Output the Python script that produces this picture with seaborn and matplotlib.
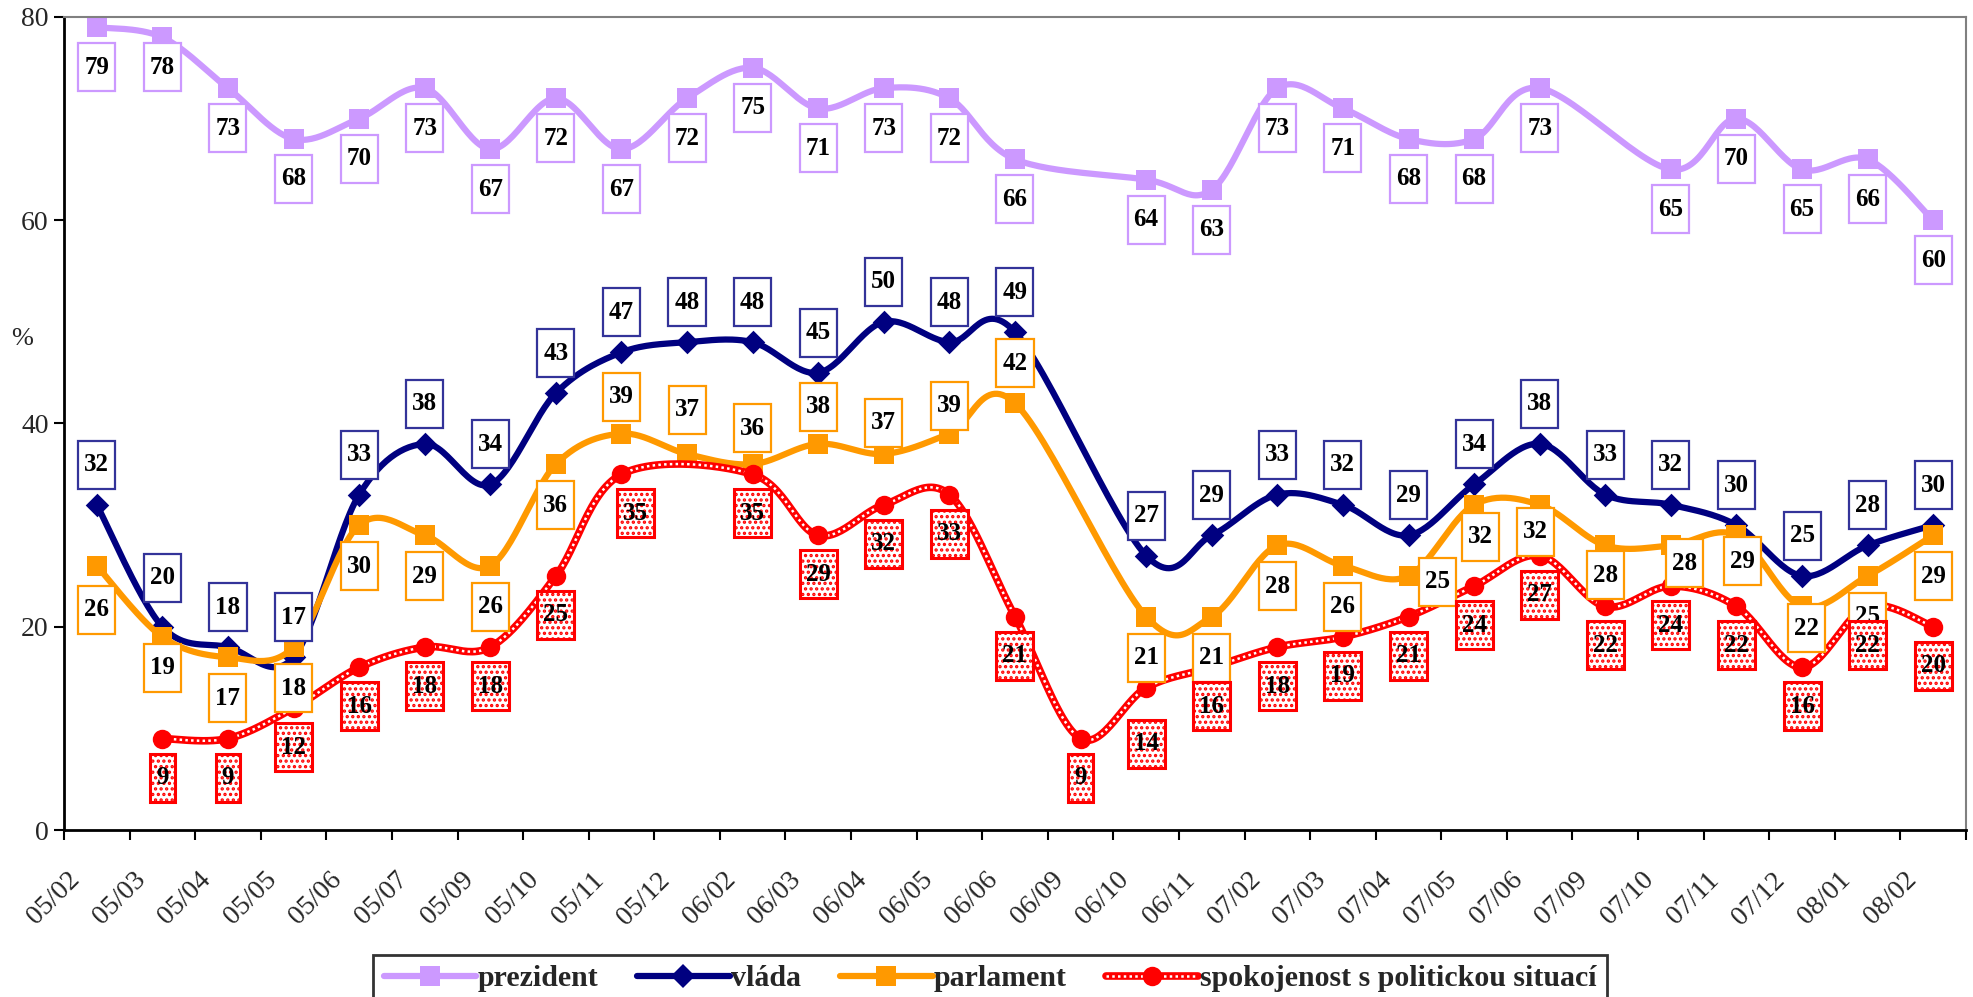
import numpy as np
import pandas as pd
import seaborn as sns
import matplotlib.pyplot as plt
from matplotlib.lines import Line2D
from matplotlib.path import Path
from matplotlib.transforms import ScaledTranslation

# -----------------------------
# Data
# -----------------------------
months = [
    "05/02", "05/03", "05/04", "05/05", "05/06", "05/07", "05/09", "05/10",
    "05/11", "05/12", "06/02", "06/03", "06/04", "06/05", "06/06", "06/09",
    "06/10", "06/11", "07/02", "07/03", "07/04", "07/05", "07/06", "07/09",
    "07/10", "07/11", "07/12", "08/01", "08/02",
]
nan = np.nan
prezident = [79, 78, 73, 68, 70, 73, 67, 72, 67, 72, 75, 71, 73, 72, 66, nan,
             64, 63, 73, 71, 68, 68, 73, nan, 65, 70, 65, 66, 60]
vlada = [32, 20, 18, 17, 33, 38, 34, 43, 47, 48, 48, 45, 50, 48, 49, nan,
         27, 29, 33, 32, 29, 34, 38, 33, 32, 30, 25, 28, 30]
parlament = [26, 19, 17, 18, 30, 29, 26, 36, 39, 37, 36, 38, 37, 39, 42, nan,
             21, 21, 28, 26, 25, 32, 32, 28, 28, 29, 22, 25, 29]
spokojenost = [nan, 9, 9, 12, 16, 18, 18, 25, 35, nan, 35, 29, 32, 33, 21, 9,
               14, 16, 18, 19, 21, 24, 27, 22, 24, 22, 16, 22, 20]

series_names = ["prezident", "vláda", "parlament", "spokojenost s politickou situací"]
series_values = [prezident, vlada, parlament, spokojenost]

# -----------------------------
# Styles
# -----------------------------
colors = ["#CC99FF", "#000080", "#FF9900", "#FF0000"]
box_edges = ["#CC99FF", "#333399", "#FF9900", "#FF0000"]
markers = ["s", "D", "s", "o"]
marker_sizes = [14, 12, 14, 14]

# label offsets in pixels (dx, dy), default per series + manual tweaks
label_default = [(0, -40), (0, 40), (0, -41), (0, -39)]
label_adjust = {
    (0, "05/03"): (0, -30),
    (1, "05/03"): (0, 49),
    (2, "05/02"): (0, -44),
    (2, "05/03"): (0, -31),
    (2, "05/11"): (0, 37),
    (2, "05/12"): (0, 44),
    (2, "06/02"): (0, 36),
    (2, "06/03"): (0, 37),
    (2, "06/04"): (0, 31),
    (2, "06/05"): (0, 28),
    (2, "06/06"): (0, 40),
    (2, "07/04"): (29, -6),
    (2, "07/05"): (6, -32),
    (2, "07/06"): (-4, -27),
    (2, "07/09"): (0, -30),
    (2, "07/10"): (14, -18),
    (2, "07/11"): (6, -26),
    (2, "07/12"): (4, -22),
    (3, "05/11"): (14, -39),
    (3, "06/10"): (0, -56),
}


def smooth_curve(xs, ys, n=30):
    # Excel style smoothed line (Catmull-Rom as cubic Bezier)
    P = np.column_stack([xs, ys]).astype(float)
    out = []
    for i in range(len(P) - 1):
        p0 = P[i - 1] if i > 0 else P[i]
        p1 = P[i]
        p2 = P[i + 1]
        p3 = P[i + 2] if i + 2 < len(P) else P[i + 1]
        b1 = p1 + (p2 - p0) / 6.0
        b2 = p2 - (p3 - p1) / 6.0
        t = np.linspace(0, 1, n)[:, None]
        seg = ((1 - t) ** 3) * p1 + 3 * ((1 - t) ** 2) * t * b1 + 3 * (1 - t) * t ** 2 * b2 + t ** 3 * p2
        out.append(seg if i == 0 else seg[1:])
    return np.vstack(out)


def tall_box(x0, y0, width, height, mutation_size):
    # label box that is taller than wide, like Excel data labels
    px = 0.24 * mutation_size
    py = 0.5 * mutation_size
    x0, y0 = x0 - px, y0 - py
    x1, y1 = x0 + width + 2 * px, y0 + height + 2 * py
    return Path([(x0, y0), (x1, y0), (x1, y1), (x0, y1), (x0, y0)], closed=True)


sns.set_theme(style="white")
plt.rcParams["font.family"] = ["Liberation Serif", "DejaVu Serif"]
plt.rcParams["hatch.linewidth"] = 1.6

fig = plt.figure(figsize=(19.74, 9.97), dpi=100)
ax = fig.add_axes([64 / 1974, 1 - 830 / 997, 1902 / 1974, 813 / 997])

x_all = np.arange(len(months))

for k, (name, vals) in enumerate(zip(series_names, series_values)):
    df = pd.DataFrame({"x": x_all, "y": vals}).dropna()
    curve = smooth_curve(df["x"].values, df["y"].values)
    cdf = pd.DataFrame({"x": curve[:, 0], "y": curve[:, 1]})
    if k == 3:
        sns.lineplot(data=cdf, x="x", y="y", sort=False, ax=ax, color=colors[k],
                     lw=5.5, zorder=2 + k * 0.1, solid_capstyle="round")
        sns.lineplot(data=cdf, x="x", y="y", sort=False, ax=ax, color="white",
                     lw=1.8, linestyle=(0, (1, 1.3)), zorder=2 + k * 0.1 + 0.01)
    else:
        sns.lineplot(data=cdf, x="x", y="y", sort=False, ax=ax, color=colors[k],
                     lw=4.5, zorder=2 + k * 0.1, solid_capstyle="round")
    sns.scatterplot(data=df, x="x", y="y", ax=ax, marker=markers[k],
                    s=marker_sizes[k] ** 2, color=colors[k], linewidth=0,
                    zorder=2 + k * 0.1 + 0.05)

# data labels
for k, vals in enumerate(series_values):
    for i, v in enumerate(vals):
        if np.isnan(v):
            continue
        dx, dy = label_adjust.get((k, months[i]), label_default[k])
        bbox = dict(boxstyle=tall_box, fc="white", ec=box_edges[k], lw=1.6)
        if k == 3:
            bbox["hatch"] = "..."
            bbox["lw"] = 2.2
        ax.annotate(f"{int(v)}", (i, v), xytext=(dx, dy), textcoords="offset pixels",
                    ha="center", va="center", fontsize=18, fontweight="bold",
                    color="black", bbox=bbox, zorder=6 + k * 0.1)

# -----------------------------
# Axes
# -----------------------------
ax.set_xlim(-0.5, len(months) - 0.5)
ax.set_ylim(0, 80)
ax.set_yticks([0, 20, 40, 60, 80])
ax.set_xticks(x_all)
ax.set_xticklabels(months, rotation=45, ha="right", va="top")
ax.set_xticks(np.arange(-0.5, len(months), 1.0), minor=True)
ax.tick_params(axis="x", which="major", length=0, pad=27, labelsize=20)
ax.tick_params(axis="x", which="minor", length=7, width=1.5, color="black", bottom=True)
ax.tick_params(axis="y", which="major", length=7, width=1.5, color="black", left=True,
               labelsize=20, pad=4)
offset = ScaledTranslation(-12 / 100, 0, fig.dpi_scale_trans)
for lab in ax.get_xticklabels():
    lab.set_transform(lab.get_transform() + offset)

ax.set_xlabel("")
ax.set_ylabel("%", rotation=0, fontsize=19)
ax.yaxis.set_label_coords(-0.022, 0.59)

for side in ["left", "bottom"]:
    ax.spines[side].set_color("black")
    ax.spines[side].set_linewidth(2)
for side in ["top", "right"]:
    ax.spines[side].set_color("#808080")
    ax.spines[side].set_linewidth(1.5)
ax.grid(False)

# -----------------------------
# Legend
# -----------------------------
handles = [
    Line2D([], [], color=colors[0], lw=4.5, marker="s", ms=14, mew=0),
    Line2D([], [], color=colors[1], lw=4.5, marker="D", ms=12, mew=0),
    Line2D([], [], color=colors[2], lw=4.5, marker="s", ms=14, mew=0),
    (Line2D([], [], color=colors[3], lw=5.5),
     Line2D([], [], color="white", lw=1.8, linestyle=(0, (1, 1.3))),
     Line2D([], [], color=colors[3], lw=0, marker="o", ms=14, mew=0)),
]
leg = fig.legend(handles, series_names, loc="upper center",
                 bbox_to_anchor=(990 / 1974, 1 - 955 / 997), ncol=4,
                 prop={"size": 21.5, "weight": "bold"}, frameon=True, fancybox=False,
                 edgecolor="black", handlelength=3.1, handletextpad=0.05,
                 columnspacing=1.3, borderpad=0.35, borderaxespad=0)
leg.get_frame().set_linewidth(2)

fig.savefig("out.png", dpi=100)
